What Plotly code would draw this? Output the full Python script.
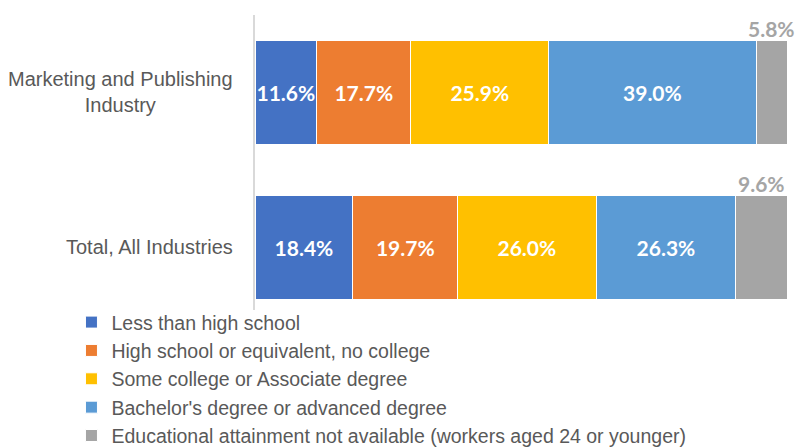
import plotly.graph_objects as go

categories = ["Marketing and Publishing Industry", "Total, All Industries"]
category_labels = ["Marketing and Publishing<br>Industry", "Total, All Industries"]
series_names = [
    "Less than high school",
    "High school or equivalent, no college",
    "Some college or Associate degree",
    "Bachelor's degree or advanced degree",
    "Educational attainment not available (workers aged 24 or younger)",
]
less_than_hs = [11.6, 18.4]
high_school = [17.7, 19.7]
some_college = [25.9, 26.0]
bachelors = [39.0, 26.3]
not_available = [5.8, 9.6]

colors = ["#4472C4", "#ED7D31", "#FFC000", "#5B9BD5", "#A5A5A5"]
series = [less_than_hs, high_school, some_college, bachelors, not_available]

fig = go.Figure()
for i, (name, vals) in enumerate(zip(series_names, series)):
    inside = i < 4
    fig.add_trace(go.Bar(
        y=categories, x=vals, name=name, orientation="h",
        marker=dict(color=colors[i], line=dict(width=1, color="white")),
        text=[f"{v:.1f}%" for v in vals] if inside else None,
        textposition="inside" if inside else "none",
        insidetextanchor="middle",
        textangle=0,
        constraintext="none",
        textfont=dict(family="Lato", size=21, color="white", weight="bold"),
        hoverinfo="skip",
    ))

annotations = []
for ci, cat in enumerate(categories):
    total = sum(s[ci] for s in series)
    annotations.append(dict(
        x=total - not_available[ci] / 2, y=cat, xref="x", yref="y",
        text=f"{not_available[ci]:.1f}%",
        showarrow=False, xanchor="center", yanchor="bottom", yshift=49,
        font=dict(family="Lato", size=21, color="#A5A5A5", weight="bold"),
    ))
    annotations.append(dict(
        x=0, y=cat, xref="paper", yref="y", text=category_labels[ci],
        showarrow=False, xanchor="right", yanchor="middle", xshift=-20,
        align="center",
        font=dict(family="Liberation Sans", size=20, color="#595959"),
    ))

fig.update_layout(
    barmode="stack",
    bargap=0.33,
    width=795, height=470,
    margin=dict(l=247, r=16, t=6.5, b=168),
    plot_bgcolor="white", paper_bgcolor="white",
    showlegend=True,
    legend=dict(
        x=-0.345, y=0.024, xanchor="left", yanchor="top",
        orientation="v", traceorder="normal",
        font=dict(family="Liberation Sans", size=19.5, color="#595959"),
        bgcolor="rgba(0,0,0,0)", itemclick=False,
        tracegroupgap=0,
    ),
    annotations=annotations,
    xaxis=dict(range=[0, 100], showgrid=False, showticklabels=False,
               zeroline=False, showline=False, fixedrange=True),
    yaxis=dict(categoryorder="array", categoryarray=categories,
               range=[1.406, -0.5], autorange=False,
               showticklabels=False, showgrid=False, zeroline=False,
               showline=True, linecolor="#D9D9D9", linewidth=2, ticks=""),
)

fig.write_html("out.html")
